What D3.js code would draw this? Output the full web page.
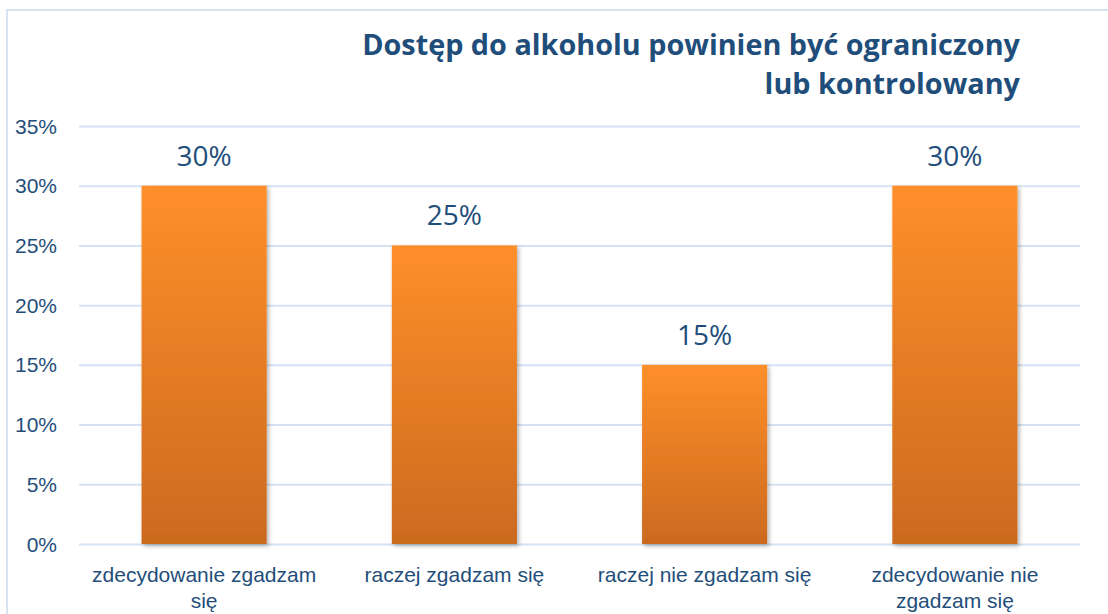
<!DOCTYPE html>
<html>
<head>
<meta charset="utf-8">
<script src="https://cdn.jsdelivr.net/npm/d3@7"></script>
<style>
	html, body { margin: 0; padding: 0; background: #fff; overflow: hidden; }
	svg { display: block; font-family: 'Open Sans', sans-serif; }
	.tick_txt { fill: #1F4E7A; font-size: 21px; }
	.cat_txt { fill: #1F4E7A; font-size: 21px; }
	.val_txt { fill: #1F4E7A; font-size: 28px; }
	.title_txt { fill: #1F4E7A; font-size: 28.8px; font-weight: bold; }
</style>
</head>
<body>
<div id="chart"></div>
<script>
// dane wykresu
const categories = ['zdecydowanie zgadzam się', 'raczej zgadzam się', 'raczej nie zgadzam się', 'zdecydowanie nie zgadzam się'];
const categoryLines = [['zdecydowanie zgadzam', 'się'], ['raczej zgadzam się'], ['raczej nie zgadzam się'], ['zdecydowanie nie', 'zgadzam się']];
const values = [0.30, 0.25, 0.15, 0.30];
const yTicks = [0, 0.05, 0.10, 0.15, 0.20, 0.25, 0.30, 0.35];
const titleLines = ['Dostęp do alkoholu powinien być ograniczony', 'lub kontrolowany'];

const W = 1108, H = 614;
const m = {top: 126, right: 28, bottom: 70, left: 79};
const width = W - m.left - m.right,
	height = H - m.top - m.bottom;

const svg = d3.select('#chart').append('svg')
	.attr('width', W)
	.attr('height', H);

const defs = svg.append('defs');
const grad = defs.append('linearGradient')
	.attr('id', 'barGrad')
	.attr('x1', 0).attr('y1', 0).attr('x2', 0).attr('y2', 1);
grad.append('stop').attr('offset', '0%').attr('stop-color', '#FF8F2A');
grad.append('stop').attr('offset', '100%').attr('stop-color', '#CB6A1F');

const shadow = defs.append('filter')
	.attr('id', 'barShadow')
	.attr('x', '-10%').attr('y', '-10%').attr('width', '130%').attr('height', '130%');
shadow.append('feDropShadow')
	.attr('dx', 2).attr('dy', 2).attr('stdDeviation', 2)
	.attr('flood-color', '#000').attr('flood-opacity', 0.3);

// ramka wykresu
svg.append('rect')
	.attr('x', 7).attr('y', 10)
	.attr('width', W + 20).attr('height', H + 20)
	.attr('fill', 'none')
	.attr('stroke', '#D5E3F3')
	.attr('stroke-width', 2);

// tytuł
svg.append('text')
	.classed('title_txt', true)
	.attr('text-anchor', 'end')
	.selectAll('tspan')
	.data(titleLines)
	.enter()
	.append('tspan')
	.attr('x', 1020)
	.attr('y', (d, i) => 55 + i * 39)
	.text(d => d);

const g = svg.append('g')
	.attr('transform', 'translate(' + m.left + ',' + m.top + ')');

const x = d3.scaleBand().domain(categories).range([0, width]).paddingInner(0.5).paddingOuter(0.25);
const y = d3.scaleLinear().domain([0, 0.35]).range([height, 0]);

// oś Y z liniami siatki
const yAxis = d3.axisLeft(y).tickValues(yTicks).tickSize(-width).tickFormat(d3.format('.0%'));
g.append('g')
	.call(yAxis)
	.call(ax => {
		ax.select('.domain').remove();
		ax.selectAll('.tick line').attr('stroke', '#D6E2F3').attr('stroke-width', 2);
		ax.selectAll('.tick text')
			.attr('class', 'tick_txt')
			.attr('x', -22)
			.attr('dy', 7)
			.attr('fill', null);
	});

// oś X
const xAxis = d3.axisBottom(x).tickSize(0).tickFormat('');
const xg = g.append('g')
	.attr('transform', 'translate(0,' + height + ')')
	.call(xAxis);
xg.select('.domain').remove();
xg.selectAll('.tick').each(function(d, i) {
	d3.select(this).append('text')
		.attr('class', 'cat_txt')
		.attr('text-anchor', 'middle')
		.selectAll('tspan')
		.data(categoryLines[i])
		.enter()
		.append('tspan')
		.attr('x', 0)
		.attr('y', (t, j) => 38 + j * 26)
		.text(t => t);
});

// słupki
g.append('g')
	.selectAll('rect')
	.data(values)
	.enter()
	.append('rect')
	.attr('x', (d, i) => x(categories[i]))
	.attr('y', d => y(d))
	.attr('width', x.bandwidth())
	.attr('height', d => height - y(d))
	.attr('fill', 'url(#barGrad)')
	.attr('filter', 'url(#barShadow)');

// etykiety wartości
g.append('g')
	.selectAll('text')
	.data(values)
	.enter()
	.append('text')
	.classed('val_txt', true)
	.attr('text-anchor', 'middle')
	.attr('x', (d, i) => x(categories[i]) + x.bandwidth() / 2)
	.attr('y', d => y(d) - 20)
	.text(d => d3.format('.0%')(d));
</script>
</body>
</html>
